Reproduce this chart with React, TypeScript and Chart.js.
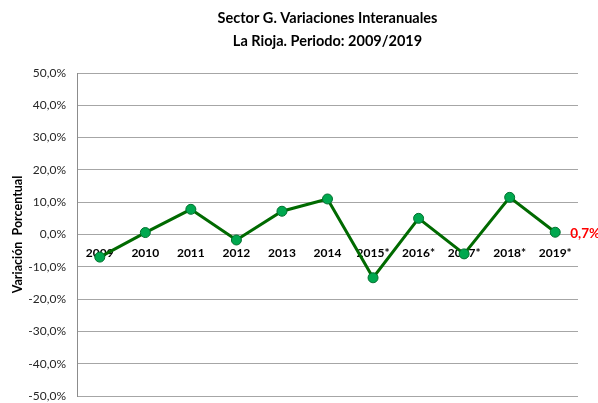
import React, { useEffect, useRef } from "react";
import { Chart, registerables } from "chart.js";

Chart.register(...registerables);

const categories = ["2009", "2010", "2011", "2012", "2013", "2014", "2015*", "2016*", "2017*", "2018*", "2019*"];
const variation = [-7.0, 0.6, 7.8, -1.7, 7.2, 11.0, -13.4, 5.0, -6.0, 11.5, 0.7];
const titleLines = ["Sector G. Variaciones Interanuales", "La Rioja. Periodo: 2009/2019"];
const yAxisTitle = "Variación  Porcentual";

const FONT = "Lato, 'Open Sans', sans-serif";

const fmt = (v: number) => v.toFixed(1).replace(".", ",") + "%";

const overlayPlugin = {
  id: "overlay",
  afterDraw(chart: any) {
    const { ctx, chartArea } = chart;
    ctx.save();
    ctx.fillStyle = "#000";
    ctx.font = `bold 14.5px ${FONT}`;
    ctx.textAlign = "center";
    ctx.textBaseline = "middle";
    const cx = (chartArea.left + chartArea.right) / 2;
    ctx.fillText(titleLines[0], cx, 18);
    ctx.fillText(titleLines[1], cx, 41);
    const meta = chart.getDatasetMeta(0);
    const last = meta.data[meta.data.length - 1];
    ctx.fillStyle = "#ff0000";
    ctx.font = `bold 13.5px ${FONT}`;
    ctx.textAlign = "left";
    ctx.fillText(fmt(variation[variation.length - 1]), last.x + 15, last.y + 1);
    ctx.restore();
  },
};

const zeroPad = (s: any) => {
  s.paddingTop = 0;
  s.paddingBottom = 0;
  s.paddingLeft = 0;
  s.paddingRight = 0;
};

export default function App() {
  const ref = useRef<HTMLCanvasElement>(null);
  useEffect(() => {
    const chart = new Chart(ref.current!, {
      type: "line",
      data: {
        labels: categories,
        datasets: [
          {
            data: variation,
            borderColor: "#006a00",
            borderWidth: 3,
            pointBackgroundColor: "#00a84f",
            pointBorderColor: "#00702e",
            pointBorderWidth: 1,
            pointRadius: 5,
            tension: 0,
          },
        ],
      },
      options: {
        animation: false,
        responsive: false,
        maintainAspectRatio: false,
        layout: { padding: { top: 73, bottom: 7, right: 20, left: 0 } },
        plugins: { legend: { display: false }, tooltip: { enabled: false } },
        scales: {
          x: {
            type: "category",
            position: { y: 0 } as any,
            offset: true,
            afterFit: (s: any) => {
              s.height = 0;
              zeroPad(s);
            },
            grid: { display: false, drawTicks: false },
            border: { display: false },
            ticks: {
              padding: 11,
              color: "#000",
              font: { family: FONT, size: 12, weight: "bold" },
              maxRotation: 0,
              autoSkip: false,
            },
          },
          y: {
            min: -50,
            max: 50,
            afterFit: (s: any) => {
              s.width = 77;
              zeroPad(s);
            },
            grid: { color: "#a6a6a6", lineWidth: 1, drawTicks: false },
            border: { display: true, color: "#8c8c8c", width: 1 },
            ticks: {
              stepSize: 10,
              padding: 11,
              color: "#262626",
              font: { family: FONT, size: 12 },
              callback: (v: any) => fmt(Number(v)),
            },
            title: {
              display: true,
              text: yAxisTitle,
              color: "#000",
              font: { family: FONT, size: 12.5, weight: "bold" },
              padding: { top: 10, bottom: 0 },
            },
          },
        },
      },
      plugins: [overlayPlugin],
    });
    return () => chart.destroy();
  }, []);
  return (
    <div style={{ position: "fixed", left: 0, top: 0, width: 598, height: 403, background: "#fff" }}>
      <canvas ref={ref} width={598} height={403} style={{ display: "block" }} />
    </div>
  );
}
